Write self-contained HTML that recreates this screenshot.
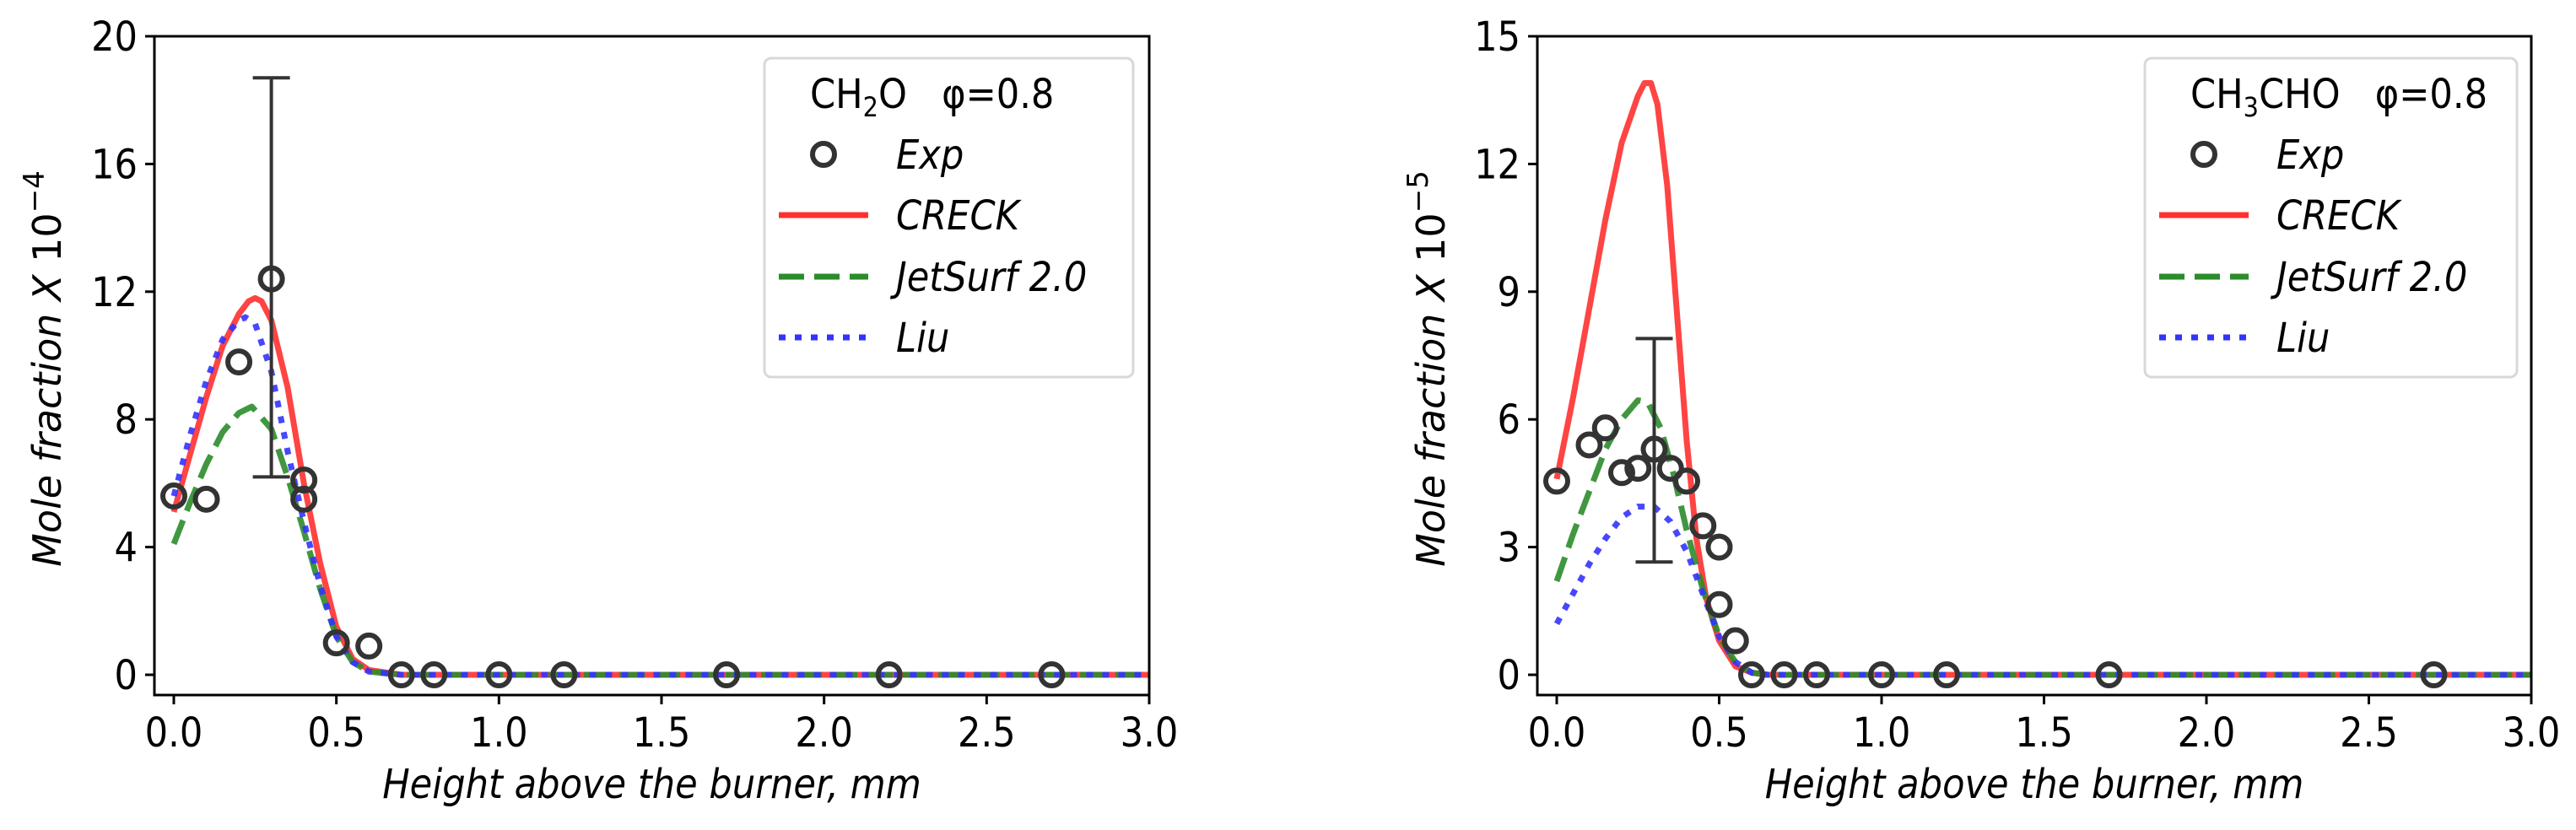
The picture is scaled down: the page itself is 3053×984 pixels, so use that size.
<!DOCTYPE html>
<html><head><meta charset="utf-8">
<style>
html,body{margin:0;padding:0;background:#fff;}
svg{display:block;}
text{font-family:"DejaVu Sans","Liberation Sans",sans-serif;font-stretch:condensed;fill:#000;}
text.wide{font-stretch:normal;}
</style></head>
<body>
<svg id="chart" width="3053" height="984" viewBox="0 0 3053 984" xmlns="http://www.w3.org/2000/svg"></svg>
<script>
// ---- data: left panel (CH2O, x10^-4) ----
const leftExpX = [0,0.1,0.2,0.3,0.4,0.4,0.5,0.6,0.7,0.8,1.0,1.2,1.7,2.2,2.7];
const leftExpY = [5.6,5.5,9.8,12.4,6.1,5.5,1.0,0.9,0,0,0,0,0,0,0];
const leftErrX = [0.3];
const leftErrLo = [6.2];
const leftErrHi = [18.7];
const leftCreckX = [0,0.05,0.1,0.15,0.2,0.23,0.25,0.27,0.3,0.35,0.4,0.45,0.5,0.55,0.6,0.7,3.0];
const leftCreckY = [5.1,6.9,8.7,10.3,11.3,11.7,11.8,11.7,11.1,9.0,6.0,3.5,1.5,0.5,0.15,0,0];
const leftJetX = [0,0.05,0.1,0.15,0.2,0.24,0.3,0.35,0.4,0.45,0.5,0.55,0.6,0.7,3.0];
const leftJetY = [4.1,5.4,6.6,7.6,8.2,8.4,7.7,6.2,4.5,2.7,1.2,0.4,0.1,0,0];
const leftLiuX = [0,0.05,0.1,0.15,0.2,0.22,0.25,0.3,0.35,0.4,0.45,0.5,0.55,0.6,0.7,3.0];
const leftLiuY = [5.6,7.5,9.2,10.5,11.1,11.2,11.0,9.5,7.0,4.8,2.8,1.2,0.4,0.1,0,0];
const leftYTicks = [0,4,8,12,16,20];
// ---- data: right panel (CH3CHO, x10^-5) ----
const rightExpX = [0,0.1,0.15,0.2,0.25,0.3,0.35,0.4,0.45,0.5,0.5,0.55,0.6,0.7,0.8,1.0,1.2,1.7,2.7];
const rightExpY = [4.55,5.4,5.8,4.75,4.85,5.3,4.85,4.55,3.5,3.0,1.65,0.8,0,0,0,0,0,0,0];
const rightErrX = [0.3];
const rightErrLo = [2.65];
const rightErrHi = [7.9];
const rightCreckX = [0,0.05,0.1,0.15,0.2,0.25,0.27,0.29,0.31,0.34,0.37,0.4,0.43,0.46,0.5,0.55,0.6,0.65,3.0];
const rightCreckY = [4.6,6.5,8.6,10.7,12.5,13.6,13.9,13.9,13.4,11.5,8.5,5.5,3.2,1.8,0.8,0.2,0.05,0,0];
const rightJetX = [0,0.05,0.1,0.15,0.2,0.25,0.28,0.32,0.36,0.4,0.45,0.5,0.55,0.6,0.65,3.0];
const rightJetY = [2.2,3.3,4.3,5.3,6.0,6.45,6.4,5.8,4.7,3.4,2.0,0.9,0.3,0.05,0,0];
const rightLiuX = [0,0.05,0.1,0.15,0.2,0.25,0.3,0.35,0.4,0.45,0.5,0.55,0.6,0.65,3.0];
const rightLiuY = [1.2,1.9,2.6,3.2,3.7,3.95,3.95,3.6,2.9,1.9,0.9,0.3,0.05,0,0];
const rightYTicks = [0,3,6,9,12,15];
const xTicks = [0,0.5,1.0,1.5,2.0,2.5,3.0];
const xTickLabels = ["0.0","0.5","1.0","1.5","2.0","2.5","3.0"];

const NS = "http://www.w3.org/2000/svg";
const svg = document.getElementById('chart');
function mk(tag, attrs, parent){
  const e = document.createElementNS(NS, tag);
  for (const k in attrs) e.setAttribute(k, attrs[k]);
  (parent||svg).appendChild(e);
  return e;
}
const RED="#ff3030", GREEN="#2b8c2b", BLUE="#3333ff";

function panel(cfg){
  const g = mk('g', {});
  
  
  const L=cfg.left, R=cfg.right, T=43, B=824, x0=L+23, y0=800;
  const sx = v => x0 + v*(R-x0)/3.0;
  const sy = v => y0 - v*(y0-T)/cfg.ymax;
  function line(xs, ys, color, dash, nm){
    const p = mk('polyline', {points: xs.map((x,i)=>sx(x)+','+sy(ys[i])).join(' '), fill:'none', stroke:color, 'stroke-width':7, 'stroke-dasharray':dash, 'stroke-linejoin':'round', 'stroke-opacity':0.9}, g);
    
    
  }
  line(cfg.creckX, cfg.creckY, RED, 'none', 'creck-line');
  line(cfg.jetX, cfg.jetY, GREEN, '30,12', 'jetsurf-line');
  line(cfg.liuX, cfg.liuY, BLUE, '8,11', 'liu-line');
  cfg.errX.forEach((x,i)=>{
    const eg = mk('g', {stroke:'#333', 'stroke-width':4}, g);
    
    
    mk('line', {x1:sx(x), x2:sx(x), y1:sy(cfg.errLo[i]), y2:sy(cfg.errHi[i])}, eg);
    mk('line', {x1:sx(x)-22, x2:sx(x)+22, y1:sy(cfg.errLo[i]), y2:sy(cfg.errLo[i])}, eg);
    mk('line', {x1:sx(x)-22, x2:sx(x)+22, y1:sy(cfg.errHi[i]), y2:sy(cfg.errHi[i])}, eg);
  });
  cfg.expX.forEach((x,i)=>{
    const c = mk('circle', {cx:sx(x), cy:sy(cfg.expY[i]), r:13, fill:'none', stroke:'#333', 'stroke-width':6}, g);
    
    
  });
  const fr = mk('rect', {x:L, y:T, width:R-L, height:B-T, fill:'none', stroke:'#000', 'stroke-width':3}, g);
  
  
  cfg.yTicks.forEach(v=>{
    mk('line', {x1:L-11, x2:L, y1:sy(v), y2:sy(v), stroke:'#000', 'stroke-width':3}, g);
    const t = mk('text', {x:L-20, y:sy(v)+17, 'text-anchor':'end', 'font-size':48}, g);
    t.textContent = String(v);
    
    
  });
  xTicks.forEach((v,i)=>{
    mk('line', {x1:sx(v), x2:sx(v), y1:B, y2:B+11, stroke:'#000', 'stroke-width':3}, g);
    const t = mk('text', {x:sx(v), y:885, 'text-anchor':'middle', 'font-size':48}, g);
    t.textContent = xTickLabels[i];
    
    
  });
  const xt = mk('text', {x:(L+R)/2, y:946, 'text-anchor':'middle', 'font-size':48, 'font-style':'italic'}, g);
  xt.textContent = 'Height above the burner, mm';
  
  
  const yt = mk('text', {class:'wide', x:0, y:0, 'text-anchor':'middle', 'font-size':46, transform:'translate('+(cfg.ytx)+',437) rotate(-90)'}, g);
  yt.innerHTML = '<tspan font-style="italic">Mole fraction X</tspan> 10<tspan dy="-20" font-size="34">\u2212'+cfg.exp+'</tspan>';
  
  
  const lg = mk('g', {}, g);
  
  
  mk('rect', {x:cfg.lgX, y:69, width:cfg.lgW, height:378, rx:8, fill:'#fff', 'fill-opacity':0.8, stroke:'#d8d8d8', 'stroke-width':3}, lg);
  const tt = mk('text', {x:cfg.lgX+54, y:128, 'font-size':48}, lg);
  tt.innerHTML = cfg.title;
  
  
  const mx = cfg.lgX+70, tx = cfg.lgX+156;
  const rows = [['Exp',183],['CRECK',255],['JetSurf 2.0',328],['Liu',400]];
  rows.forEach((r,i)=>{
    const e = mk('g', {}, lg);
    
    
    if (i===0) mk('circle', {cx:mx, cy:r[1], r:13, fill:'none', stroke:'#333', 'stroke-width':6}, e);
    else mk('line', {x1:mx-53, x2:mx+53, y1:r[1], y2:r[1], stroke:[RED,GREEN,BLUE][i-1], 'stroke-width':7, 'stroke-dasharray':['none','30,12','8,11'][i-1]}, e);
    const t = mk('text', {x:tx, y:r[1]+17, 'font-size':48, 'font-style':'italic'}, e);
    t.textContent = r[0];
  });
}

panel({name:'left-panel-ch2o', left:183, right:1362, ymax:20, yTicks:leftYTicks, exp:'4', ytx:72,
  expX:leftExpX, expY:leftExpY, errX:leftErrX, errLo:leftErrLo, errHi:leftErrHi,
  creckX:leftCreckX, creckY:leftCreckY, jetX:leftJetX, jetY:leftJetY, liuX:leftLiuX, liuY:leftLiuY,
  lgX:906, lgW:437, title:'CH<tspan dy="10" font-size="32">2</tspan><tspan dy="-10">O</tspan>\u00a0\u00a0\u00a0φ=0.8'});
panel({name:'right-panel-ch3cho', left:1822, right:3000, ymax:15, yTicks:rightYTicks, exp:'5', ytx:1712,
  expX:rightExpX, expY:rightExpY, errX:rightErrX, errLo:rightErrLo, errHi:rightErrHi,
  creckX:rightCreckX, creckY:rightCreckY, jetX:rightJetX, jetY:rightJetY, liuX:rightLiuX, liuY:rightLiuY,
  lgX:2542, lgW:441, title:'CH<tspan dy="10" font-size="32">3</tspan><tspan dy="-10">CHO</tspan>\u00a0\u00a0\u00a0φ=0.8'});
</script>
</body></html>
